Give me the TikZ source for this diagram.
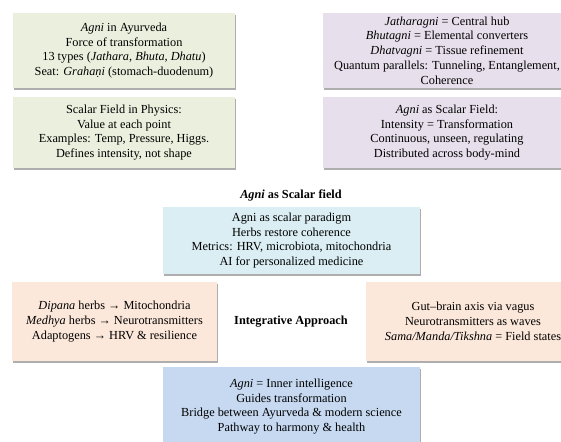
\documentclass[tikz,border=0pt]{standalone}
\usepackage{fontspec}
\setmainfont{Liberation Serif}
\usetikzlibrary{shadows}
\definecolor{boxgreen}{HTML}{EBF0DE}
\definecolor{boxpurple}{HTML}{E7E0EC}
\definecolor{boxaqua}{HTML}{DAEEF3}
\definecolor{boxpeach}{HTML}{FCE8DA}
\definecolor{boxblue}{HTML}{C6D9F1}
\begin{document}
\begin{tikzpicture}[x=1pt,y=-1pt,
  txt/.style={font=\fontsize{12.3}{14.8}\selectfont, align=center, inner sep=0pt},
  card/.style={txt, rectangle, draw=none,
    drop shadow={shadow xshift=1pt, shadow yshift=-2pt, fill=black!45, opacity=0.7}},
  lbl/.style={txt, font=\fontsize{12.3}{14.8}\selectfont\bfseries}]
\useasboundingbox (0,0) rectangle (561,441);
\clip (0,0) rectangle (561,441);
\fill[white] (0,0) rectangle (561,441);

\node[card, fill=boxgreen, minimum width=222pt, minimum height=75pt] (g1) at (124,50.5)
  {\textit{Agni} in Ayurveda\\Force of transformation\\13 types (\textit{Jathara}, \textit{Bhuta}, \textit{Dhatu})\\Seat: \textit{Grahaṇi} (stomach-duodenum)};
\node[card, fill=boxgreen, minimum width=222pt, minimum height=71pt] (g2) at (124,132.5)
  {Scalar Field in Physics:\\Value at each point\\Examples: Temp, Pressure, Higgs.\\Defines intensity, not shape};
\node[card, fill=boxpurple, minimum width=248pt, minimum height=75pt] (p1) at (447,50.5)
  {\textit{Jatharagni} = Central hub\\\textit{Bhutagni} = Elemental converters\\\textit{Dhatvagni} = Tissue refinement\\Quantum parallels: Tunneling, Entanglement,\\Coherence};
\node[card, fill=boxpurple, minimum width=248pt, minimum height=71pt] (p2) at (447,132.5)
  {\textit{Agni} as Scalar Field:\\Intensity = Transformation\\Continuous, unseen, regulating\\Distributed across body-mind};

\node[lbl] (title) at (291,195) {\textit{Agni} as Scalar field};

\node[card, fill=boxaqua, minimum width=257pt, minimum height=67pt] (a1) at (291.5,240.5)
  {Agni as scalar paradigm\\Herbs restore coherence\\Metrics: HRV, microbiota, mitochondria\\AI for personalized medicine};

\node[card, fill=boxpeach, minimum width=205pt, minimum height=79pt] (pl) at (114.5,321.5)
  {\textit{Dipana} herbs \textrightarrow{} Mitochondria\\\textit{Medhya} herbs \textrightarrow{} Neurotransmitters\\Adaptogens \textrightarrow{} HRV \& resilience};
\node[card, fill=boxpeach, minimum width=214pt, minimum height=79pt] (pr) at (473,321.5)
  {Gut--brain axis via vagus\\Neurotransmitters as waves\\\textit{Sama/Manda/Tikshna} = Field states};

\node[lbl] (integ) at (291,322) {Integrative Approach};

\node[card, fill=boxblue, minimum width=257pt, minimum height=79pt] (b1) at (291.5,406.5)
  {\textit{Agni} = Inner intelligence\\Guides transformation\\Bridge between Ayurveda \& modern science\\Pathway to harmony \& health};
\end{tikzpicture}
\end{document}
